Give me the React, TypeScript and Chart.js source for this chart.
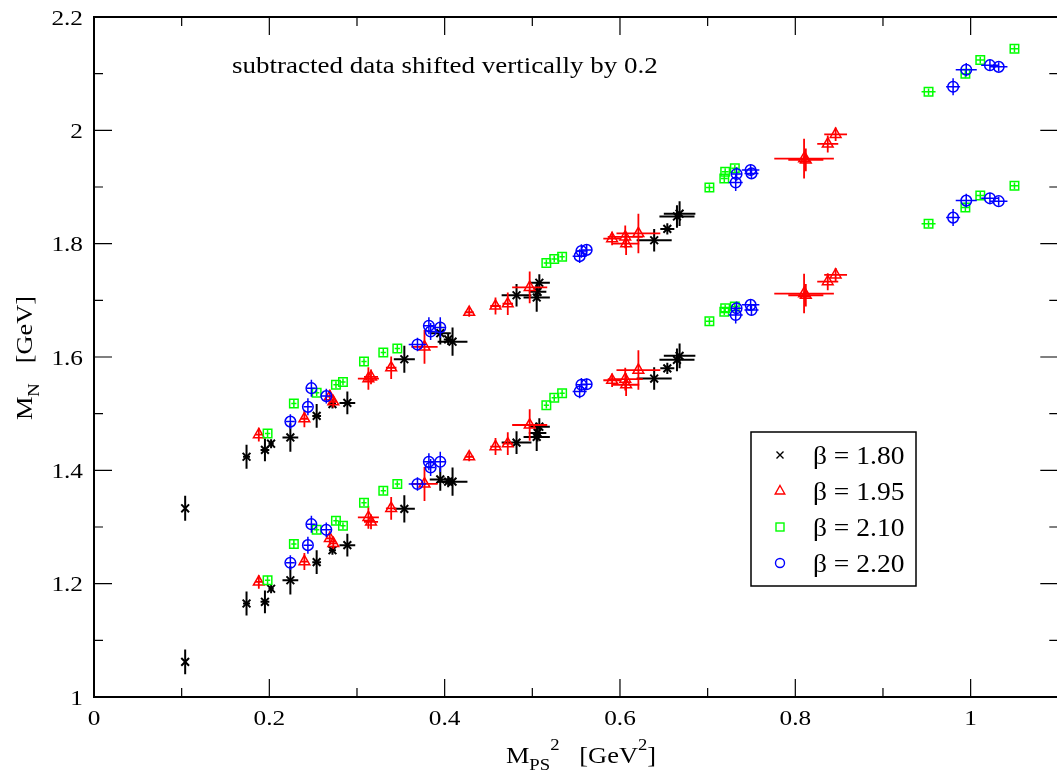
import React, { useEffect, useRef } from "react";
import { Chart, registerables } from "chart.js";
Chart.register(...registerables);

const FONT = '"Liberation Serif", "Times New Roman", serif';

// ---- axis ticks ----
const xTickValues = [0, 0.2, 0.4, 0.6, 0.8, 1.0];
const xTickLabels = ["0", "0.2", "0.4", "0.6", "0.8", "1"];
const xMinorValues = [0.1, 0.3, 0.5, 0.7, 0.9];
const yTickValues = [1.0, 1.2, 1.4, 1.6, 1.8, 2.0, 2.2];
const yTickLabels = ["1", "1.2", "1.4", "1.6", "1.8", "2", "2.2"];
const yMinorValues = [1.1, 1.3, 1.5, 1.7, 1.9, 2.1];

// ---- beta = 1.80 ----
const b180X = [0.104, 0.174, 0.195, 0.202, 0.224, 0.254, 0.272, 0.289, 0.354, 0.395, 0.404, 0.409, 0.482, 0.505, 0.506, 0.508, 0.639, 0.654, 0.665, 0.668];
const b180XErr = [0.001, 0.004, 0.005, 0.003, 0.009, 0.005, 0.004, 0.009, 0.012, 0.012, 0.005, 0.017, 0.017, 0.015, 0.01, 0.012, 0.02, 0.008, 0.02, 0.018];
const b180Y = [1.062, 1.165, 1.168, 1.191, 1.206, 1.238, 1.259, 1.268, 1.332, 1.384, 1.38, 1.38, 1.449, 1.459, 1.466, 1.477, 1.562, 1.58, 1.595, 1.602];
const b180YErr = [0.022, 0.021, 0.02, 0.008, 0.025, 0.021, 0.008, 0.02, 0.024, 0.02, 0.01, 0.025, 0.02, 0.025, 0.015, 0.015, 0.02, 0.01, 0.02, 0.022];
const b180YShift = [1.333, 1.424, 1.436, 1.447, 1.458, 1.496, 1.517, 1.519, 1.596, 1.642, 1.631, 1.627, 1.709, 1.705, 1.715, 1.731, 1.806, 1.826, 1.848, 1.853];

// ---- beta = 1.95 ----
const b195X = [0.188, 0.24, 0.269, 0.273, 0.313, 0.316, 0.339, 0.377, 0.428, 0.458, 0.472, 0.497, 0.591, 0.606, 0.607, 0.621, 0.81, 0.812, 0.837, 0.846];
const b195XErr = [0.004, 0.004, 0.004, 0.004, 0.012, 0.008, 0.006, 0.015, 0.005, 0.006, 0.006, 0.02, 0.01, 0.02, 0.015, 0.025, 0.034, 0.02, 0.012, 0.013];
const b195Y = [1.203, 1.239, 1.28, 1.271, 1.317, 1.309, 1.333, 1.376, 1.424, 1.442, 1.447, 1.48, 1.559, 1.561, 1.551, 1.577, 1.712, 1.709, 1.733, 1.745];
const b195YErr = [0.012, 0.015, 0.012, 0.01, 0.02, 0.013, 0.02, 0.03, 0.008, 0.015, 0.02, 0.028, 0.012, 0.02, 0.02, 0.035, 0.035, 0.02, 0.015, 0.012];
const b195YShift = [1.463, 1.491, 1.53, 1.521, 1.562, 1.565, 1.581, 1.618, 1.679, 1.69, 1.694, 1.723, 1.809, 1.812, 1.8, 1.818, 1.95, 1.948, 1.976, 1.993];

// ---- beta = 2.10 ----
const b210X = [0.198, 0.228, 0.254, 0.276, 0.284, 0.308, 0.33, 0.346, 0.516, 0.525, 0.534, 0.702, 0.719, 0.72, 0.731, 0.952, 0.994, 1.011, 1.05];
const b210XErr = [0.003, 0.003, 0.003, 0.003, 0.003, 0.003, 0.003, 0.003, 0.003, 0.003, 0.003, 0.004, 0.004, 0.004, 0.004, 0.008, 0.005, 0.005, 0.004];
const b210Y = [1.206, 1.27, 1.295, 1.311, 1.302, 1.343, 1.364, 1.376, 1.515, 1.528, 1.536, 1.663, 1.68, 1.686, 1.689, 1.835, 1.864, 1.885, 1.902];
const b210YErr = [0.008, 0.008, 0.006, 0.006, 0.006, 0.006, 0.006, 0.006, 0.006, 0.006, 0.006, 0.006, 0.006, 0.006, 0.006, 0.006, 0.008, 0.006, 0.006];
const b210YShift = [1.465, 1.518, 1.537, 1.551, 1.556, 1.592, 1.608, 1.615, 1.766, 1.773, 1.777, 1.899, 1.915, 1.927, 1.933, 2.068, 2.1, 2.124, 2.144];

// ---- beta = 2.20 ----
const b220X = [0.224, 0.244, 0.248, 0.265, 0.369, 0.382, 0.384, 0.395, 0.554, 0.556, 0.562, 0.732, 0.733, 0.749, 0.75, 0.98, 0.995, 1.022, 1.032];
const b220XErr = [0.005, 0.005, 0.005, 0.006, 0.01, 0.006, 0.005, 0.006, 0.008, 0.006, 0.006, 0.008, 0.006, 0.01, 0.008, 0.008, 0.012, 0.01, 0.01];
const b220Y = [1.237, 1.268, 1.305, 1.295, 1.376, 1.415, 1.405, 1.415, 1.539, 1.551, 1.552, 1.674, 1.686, 1.692, 1.683, 1.846, 1.876, 1.88, 1.875];
const b220YErr = [0.013, 0.015, 0.015, 0.013, 0.012, 0.015, 0.015, 0.018, 0.012, 0.012, 0.01, 0.015, 0.012, 0.01, 0.01, 0.015, 0.012, 0.01, 0.008];
const b220YShift = [1.486, 1.512, 1.545, 1.531, 1.622, 1.655, 1.645, 1.652, 1.778, 1.787, 1.789, 1.908, 1.923, 1.93, 1.924, 2.077, 2.107, 2.115, 2.112];

const legendLabels = ["\u03b2 = 1.80", "\u03b2 = 1.95", "\u03b2 = 2.10", "\u03b2 = 2.20"];
const annotation = "subtracted data shifted vertically by 0.2";

function pts(x: number[], xe: number[], y: number[], ye: number[]) {
  return x.map((v, i) => ({ x: v, y: y[i], xe: xe[i], ye: ye[i] }));
}

function txt(ctx: CanvasRenderingContext2D, s: string, x: number, y: number, size: number, align: string, sx = 1) {
  ctx.save();
  ctx.font = `${size}px ${FONT}`;
  const w = ctx.measureText(s).width * sx;
  const x0 = align === "left" ? x : align === "center" ? x - w / 2 : x - w;
  ctx.translate(x0, y);
  ctx.scale(sx, 1);
  ctx.textAlign = "left";
  ctx.textBaseline = "alphabetic";
  ctx.fillStyle = "#000";
  ctx.fillText(s, 0, 0);
  ctx.restore();
  return w;
}

type Part = { t: string; size: number; dy: number };
function rich(ctx: CanvasRenderingContext2D, parts: Part[], cx: number, y: number, sx: number) {
  let total = 0;
  parts.forEach((p) => {
    ctx.font = `${p.size}px ${FONT}`;
    total += ctx.measureText(p.t).width * sx;
  });
  let x = cx - total / 2;
  parts.forEach((p) => {
    x += txt(ctx, p.t, x, y + p.dy, p.size, "left", sx);
  });
}

const errorBars = {
  id: "errorBars",
  beforeDatasetDraw(chart: any, args: any) {
    const ds = chart.data.datasets[args.index];
    const xs = chart.scales.x;
    const ys = chart.scales.y;
    const ctx = chart.ctx as CanvasRenderingContext2D;
    ctx.save();
    ctx.strokeStyle = ds.borderColor;
    ctx.lineWidth = ds.errWidth;
    ds.data.forEach((p: any) => {
      const px = xs.getPixelForValue(p.x);
      const py = ys.getPixelForValue(p.y);
      ctx.beginPath();
      ctx.moveTo(xs.getPixelForValue(p.x - p.xe), py);
      ctx.lineTo(xs.getPixelForValue(p.x + p.xe), py);
      ctx.moveTo(px, ys.getPixelForValue(p.y - p.ye));
      ctx.lineTo(px, ys.getPixelForValue(p.y + p.ye));
      ctx.stroke();
    });
    ctx.restore();
  },
};

const decor = {
  id: "decor",
  afterDraw(chart: any) {
    const ctx = chart.ctx as CanvasRenderingContext2D;
    const a = chart.chartArea;
    const xs = chart.scales.x;
    const ys = chart.scales.y;
    ctx.save();
    // frame
    ctx.strokeStyle = "#000";
    ctx.lineWidth = 2;
    ctx.strokeRect(a.left, a.top, a.right - a.left, a.bottom - a.top);
    // ticks
    ctx.lineWidth = 1.2;
    ctx.beginPath();
    const maj = 18, min = 9;
    xTickValues.forEach((v) => {
      const p = xs.getPixelForValue(v);
      ctx.moveTo(p, a.bottom); ctx.lineTo(p, a.bottom - maj);
      ctx.moveTo(p, a.top); ctx.lineTo(p, a.top + maj);
    });
    xMinorValues.forEach((v) => {
      const p = xs.getPixelForValue(v);
      ctx.moveTo(p, a.bottom); ctx.lineTo(p, a.bottom - min);
      ctx.moveTo(p, a.top); ctx.lineTo(p, a.top + min);
    });
    yTickValues.forEach((v) => {
      const p = ys.getPixelForValue(v);
      ctx.moveTo(a.left, p); ctx.lineTo(a.left + maj, p);
      ctx.moveTo(a.right, p); ctx.lineTo(a.right - maj, p);
    });
    yMinorValues.forEach((v) => {
      const p = ys.getPixelForValue(v);
      ctx.moveTo(a.left, p); ctx.lineTo(a.left + min, p);
      ctx.moveTo(a.right, p); ctx.lineTo(a.right - min, p);
    });
    ctx.stroke();
    // tick labels
    const tickSize = 22, tsx = 1.15;
    xTickValues.forEach((v, i) => {
      txt(ctx, xTickLabels[i], xs.getPixelForValue(v), a.bottom + 28, tickSize, "center", tsx);
    });
    yTickValues.forEach((v, i) => {
      txt(ctx, yTickLabels[i], a.left - 11, ys.getPixelForValue(v) + 7.5, tickSize, "right", tsx);
    });
    // x title
    rich(ctx, [
      { t: "M", size: 24, dy: 0 },
      { t: "PS", size: 17, dy: 7 },
      { t: "2", size: 17, dy: -13 },
      { t: "   [GeV", size: 24, dy: 0 },
      { t: "2", size: 17, dy: -13 },
      { t: "]", size: 24, dy: 0 },
    ], 581, 763, 1.1);
    // y title
    ctx.save();
    ctx.translate(32, 358);
    ctx.rotate(-Math.PI / 2);
    rich(ctx, [
      { t: "M", size: 24, dy: 0 },
      { t: "N", size: 17, dy: 7 },
      { t: "   [GeV]", size: 24, dy: 0 },
    ], 0, 0, 1.1);
    ctx.restore();
    // annotation
    txt(ctx, annotation, 232, 73, 22.5, "left", 1.2);
    // legend
    ctx.lineWidth = 1.5;
    ctx.strokeStyle = "#000";
    ctx.strokeRect(751, 432, 165, 154);
    const rows = [455, 491, 527, 563];
    const sxp = 780;
    // cross
    ctx.lineWidth = 1.4;
    ctx.strokeStyle = "#000";
    ctx.beginPath();
    ctx.moveTo(sxp - 3.5, rows[0] - 3.5); ctx.lineTo(sxp + 3.5, rows[0] + 3.5);
    ctx.moveTo(sxp + 3.5, rows[0] - 3.5); ctx.lineTo(sxp - 3.5, rows[0] + 3.5);
    ctx.stroke();
    // triangle
    ctx.strokeStyle = "#ff0000";
    ctx.beginPath();
    ctx.moveTo(sxp, rows[1] - 5.5);
    ctx.lineTo(sxp + 4.8, rows[1] + 3);
    ctx.lineTo(sxp - 4.8, rows[1] + 3);
    ctx.closePath();
    ctx.stroke();
    // square
    ctx.strokeStyle = "#00ff00";
    ctx.strokeRect(sxp - 4, rows[2] - 4, 8, 8);
    // circle
    ctx.strokeStyle = "#0000ff";
    ctx.beginPath();
    ctx.arc(sxp, rows[3], 4.5, 0, Math.PI * 2);
    ctx.stroke();
    legendLabels.forEach((l, i) => txt(ctx, l, 813, rows[i] + 8.5, 25, "left", 1.1));
    ctx.restore();
  },
};

export default function App() {
  const ref = useRef<HTMLCanvasElement>(null);
  useEffect(() => {
    if (!ref.current) return;
    const mk = (data: any[], color: string, style: string, radius: number, bw: number, ew: number, order: number) => ({
      data,
      borderColor: color,
      backgroundColor: "rgba(0,0,0,0)",
      pointStyle: style,
      pointRadius: radius,
      pointBorderWidth: bw,
      pointBackgroundColor: "rgba(0,0,0,0)",
      pointBorderColor: color,
      showLine: false,
      errWidth: ew,
      order,
    });
    const chart = new Chart(ref.current, {
      type: "scatter",
      data: {
        datasets: [
          mk(pts(b180X, b180XErr, b180Y, b180YErr), "#000000", "crossRot", 5.5, 2, 2, 3),
          mk(pts(b180X, b180XErr, b180YShift, b180YErr), "#000000", "crossRot", 5.5, 2, 2, 3),
          mk(pts(b195X, b195XErr, b195Y, b195YErr), "#ff0000", "triangle", 6.2, 1.5, 1.8, 2),
          mk(pts(b195X, b195XErr, b195YShift, b195YErr), "#ff0000", "triangle", 6.2, 1.5, 1.8, 2),
          mk(pts(b210X, b210XErr, b210Y, b210YErr), "#00ff00", "rect", 6, 1.5, 1.5, 1),
          mk(pts(b210X, b210XErr, b210YShift, b210YErr), "#00ff00", "rect", 6, 1.5, 1.5, 1),
          mk(pts(b220X, b220XErr, b220Y, b220YErr), "#0000ff", "circle", 5.3, 1.5, 1.5, 0),
          mk(pts(b220X, b220XErr, b220YShift, b220YErr), "#0000ff", "circle", 5.3, 1.5, 1.5, 0),
        ] as any,
      },
      options: {
        animation: false,
        responsive: false,
        devicePixelRatio: 1,
        layout: { padding: { left: 94, top: 17, right: 1, bottom: 78 } },
        scales: {
          x: { type: "linear", min: 0, max: 1.1, display: false },
          y: { type: "linear", min: 1, max: 2.2, display: false },
        },
        plugins: { legend: { display: false }, tooltip: { enabled: false } },
        events: [],
      },
      plugins: [errorBars, decor],
    });
    return () => chart.destroy();
  }, []);
  return (
    <div style={{ position: "absolute", left: 0, top: 0, width: 1057, height: 775, overflow: "hidden", background: "#fff" }}>
      <canvas ref={ref} width={1066} height={775} style={{ display: "block", width: 1066, height: 775 }} />
    </div>
  );
}
